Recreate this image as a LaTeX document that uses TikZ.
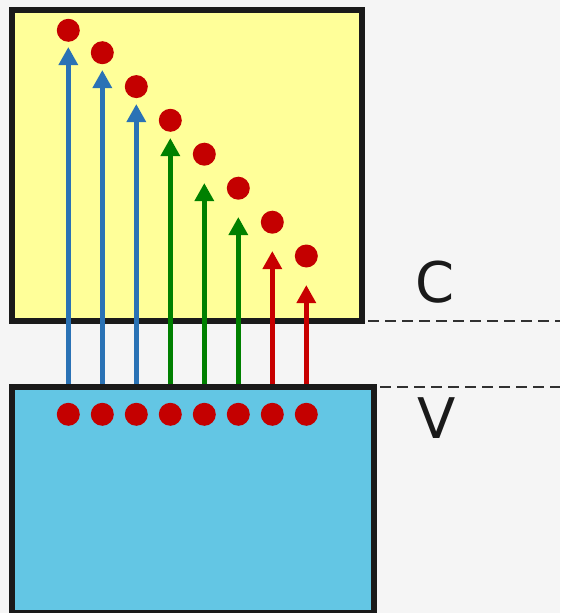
\documentclass[tikz,border=0pt]{standalone}
\usepackage{fontspec}
\setmainfont{DejaVu Sans}
\usetikzlibrary{arrows.meta}
\definecolor{bgc}{HTML}{F5F5F5}
\definecolor{yellowfill}{HTML}{FFFF99}
\definecolor{bluefill}{HTML}{63C6E4}
\definecolor{edgec}{HTML}{1A1A1A}
\definecolor{arrblue}{HTML}{2A72B5}
\definecolor{arrgreen}{HTML}{008000}
\definecolor{arrred}{HTML}{C80000}
\definecolor{dotred}{HTML}{C40000}
\tikzset{
  bandbox/.style={draw=edgec, line width=6pt},
  electron/.style={circle, fill=dotred, minimum size=23pt, inner sep=0pt},
  excite/.style={line width=5.5pt, -{Triangle[width=18.5pt,length=18pt]}},
  levelline/.style={draw=edgec!90, line width=2.6pt, dash pattern=on 11pt off 6pt},
  bandlabel/.style={anchor=base, text=edgec, font=\fontsize{56}{60}\selectfont, inner sep=0pt}
}
\begin{document}
\begin{tikzpicture}[x=1pt,y=-1pt]
\useasboundingbox (0,0) rectangle (560,613);
\clip (0,0) rectangle (560,613);
\fill[bgc] (0,0) rectangle (560,613);
% conduction band box
\draw[bandbox, fill=yellowfill] (12,10) rectangle (362,321);
% level lines
\coordinate (cL) at (368,321);
\coordinate (cR) at (560,321);
\coordinate (vL) at (380,387);
\coordinate (vR) at (560,387);
\draw[levelline] (cL) -- (cR);
\draw[levelline] (vL) -- (vR);
% arrows
\foreach \i/\tip/\col in {1/47/arrblue,2/70/arrblue,3/104/arrblue,4/138/arrgreen,5/183/arrgreen,6/217/arrgreen,7/251/arrred,8/285/arrred}{
  \coordinate (b\i) at ({68.3+34*(\i-1)},388);
  \coordinate (t\i) at ({68.3+34*(\i-1)},\tip);
  \draw[excite, draw=\col, fill=\col] (b\i) -- (t\i);
}
% valence band box
\draw[bandbox, fill=bluefill] (12,387) rectangle (374,613);
% electrons in valence band
\foreach \i in {1,...,8}{
  \node[electron] (v\i) at ({68.3+34*(\i-1)},414.3) {};
}
% excited electrons
\foreach \i/\y in {1/30.3,2/52.7,3/86.6,4/120.3,5/154.2,6/188.2,7/222.2,8/256}{
  \node[electron] (c\i) at ({68.3+34*(\i-1)},\y) {};
}
\node[bandlabel] (labC) at (435,302.5) {C};
\node[bandlabel] (labV) at (436.5,438) {V};
\end{tikzpicture}
\end{document}
